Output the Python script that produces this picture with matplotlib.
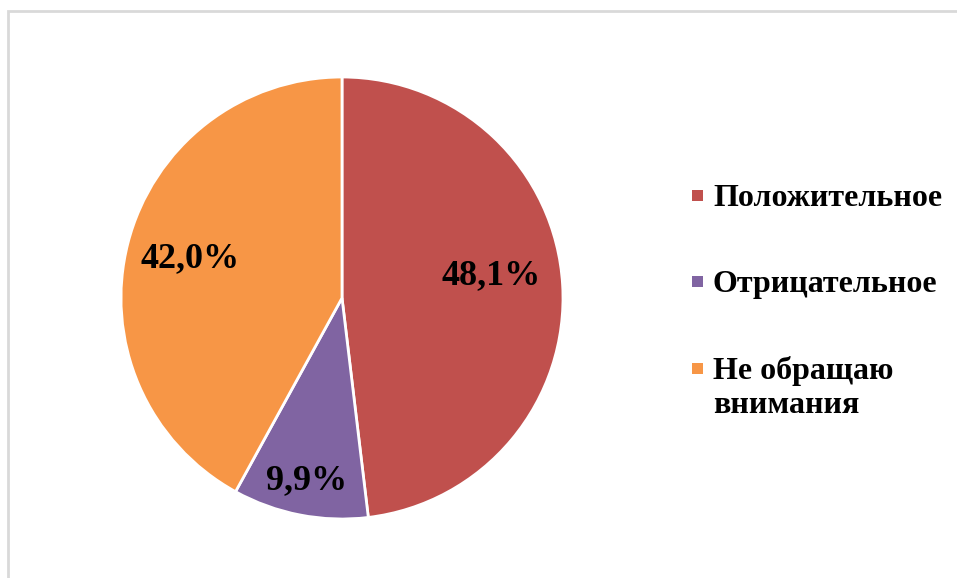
import numpy as np
import matplotlib.pyplot as plt
from matplotlib.patches import Rectangle

# ---------------- data -----------------
categories = ['Положительное', 'Отрицательное', 'Не обращаю\nвнимания']
values = [48.1, 9.9, 42.0]
labels = ['48,1%', '9,9%', '42,0%']
colors = ['#C0504D', '#8064A2', '#F79646']

# label placement (fraction of radius, extra angle in degrees)
label_dist = [0.68, 0.84, 0.71]
label_turn = [5, 0, 0]

plt.rcParams['font.family'] = ['Liberation Serif', 'DejaVu Serif']

W, H = 957, 578
fig = plt.figure(figsize=(W / 100, H / 100), dpi=100)

# light grey chart frame (only top and left edges are inside the picture)
fig.patches.append(Rectangle((8 / W, -1), 2, 2 - 11 / H, transform=fig.transFigure,
                             fill=False, edgecolor='#D9D9D9', linewidth=2))

cx, cy, r = 342, 298, 221
ax = fig.add_axes([(cx - r) / W, (H - cy - r) / H, 2 * r / W, 2 * r / H])
wedges, _ = ax.pie(values, colors=colors, startangle=90, counterclock=False,
                   wedgeprops=dict(edgecolor='white', linewidth=2))
ax.set_xlim(-1, 1)
ax.set_ylim(-1, 1)
ax.set_aspect('equal')
ax.axis('off')

for w, lab, d, t in zip(wedges, labels, label_dist, label_turn):
    ang = np.deg2rad((w.theta1 + w.theta2) / 2 + t)
    ax.text(d * np.cos(ang), d * np.sin(ang), lab, ha='center', va='center',
            fontsize=26, fontweight='bold', color='black')

# legend drawn by hand so the marker sits at the first line
base_y = [206, 292, 379]
for cat, col, y in zip(categories, colors, base_y):
    fig.patches.append(Rectangle((692 / W, 1 - (y - 5) / H), 11 / W, 11 / H,
                                 transform=fig.transFigure, facecolor=col, edgecolor='none'))
    for k, line in enumerate(cat.split('\n')):
        fig.text(713 / W, 1 - (y + 34 * k) / H, line, ha='left', va='baseline',
                 fontsize=23, fontweight='bold', color='black')

fig.savefig('out.png', dpi=100)
